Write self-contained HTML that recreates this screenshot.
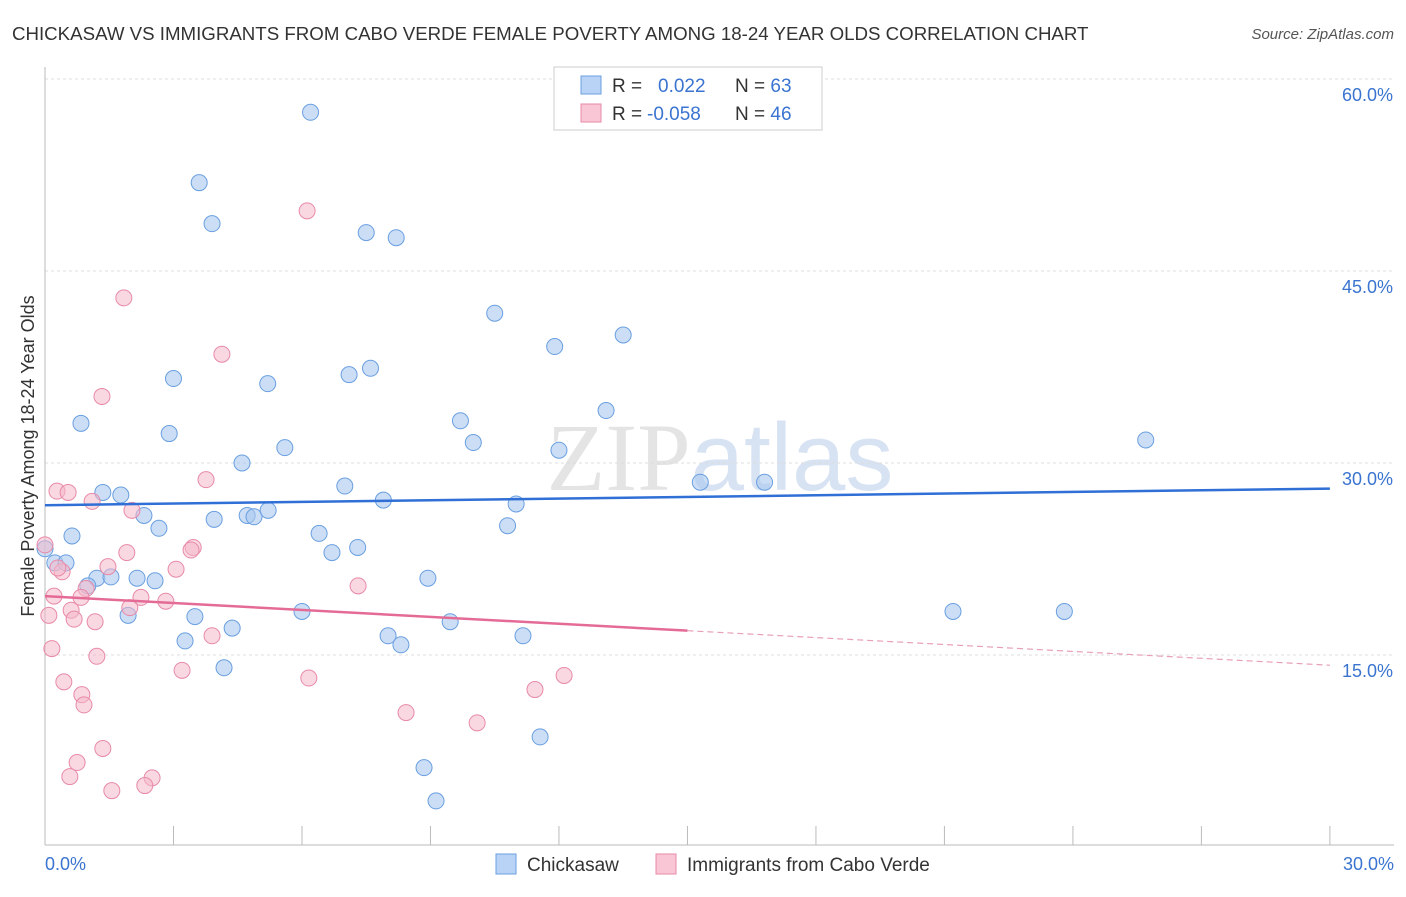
<!DOCTYPE html>
<html><head><meta charset="utf-8"><style>
body{margin:0;background:#fff;font-family:"Liberation Sans",sans-serif}
</style></head><body>
<svg id="c" width="1406" height="892" xmlns="http://www.w3.org/2000/svg">
<text x="12" y="40" font-size="18.7" fill="#333">CHICKASAW VS IMMIGRANTS FROM CABO VERDE FEMALE POVERTY AMONG 18-24 YEAR OLDS CORRELATION CHART</text>
<text x="1394" y="39" font-size="15" fill="#555" font-style="italic" text-anchor="end">Source: ZipAtlas.com</text>
<text x="720" y="490" font-size="96" fill="#e4e4e4" text-anchor="middle" font-family="Liberation Serif">ZIP<tspan fill="#d7e3f3" font-family="Liberation Sans">atlas</tspan></text>
<g id="grid"></g><g id="axes"></g><g id="pts"></g><g id="lines"></g>
<text transform="translate(34,456) rotate(-90)" font-size="18" fill="#333" text-anchor="middle">Female Poverty Among 18-24 Year Olds</text>
<text x="45" y="870" font-size="18" fill="#3a74d0">0.0%</text>
<text x="1394" y="870" font-size="18" fill="#3a74d0" text-anchor="end">30.0%</text>
<g>
<rect x="554" y="67" width="268" height="63" fill="#fff" stroke="#ccc"/>
<rect x="581" y="76" width="20" height="18" fill="#b8d3f5" stroke="#6a9fe0"/>
<rect x="581" y="104" width="20" height="18" fill="#f9c6d5" stroke="#e88aa8"/>
<text x="612" y="92" font-size="19" fill="#333">R =  <tspan fill="#3a74d0" x="658">0.022</tspan><tspan x="735">N = </tspan><tspan fill="#3a74d0">63</tspan></text>
<text x="612" y="120" font-size="19" fill="#333">R = <tspan fill="#3a74d0" x="647">-0.058</tspan><tspan x="735">N = </tspan><tspan fill="#3a74d0">46</tspan></text>
</g>
<g>
<rect x="496" y="854" width="20" height="20" fill="#b8d3f5" stroke="#6a9fe0"/>
<text x="527" y="871" font-size="19" fill="#333">Chickasaw</text>
<rect x="656" y="854" width="20" height="20" fill="#f9c6d5" stroke="#e88aa8"/>
<text x="687" y="871" font-size="19" fill="#333">Immigrants from Cabo Verde</text>
</g>
</svg>
<script>
const yTicks=[15,30,45,60];
const yTickLabels=["15.0%","30.0%","45.0%","60.0%"];
const xTicks=[0,3,6,9,12,15,18,21,24,27,30];
const blueX=[6.2,3.6,3.9,7.5,8.2,10.5,13.5,11.9,3.0,5.2,7.1,7.6,0.84,2.9,9.7,10.0,13.1,25.7,5.6,12.0,4.6,7.0,1.35,1.77,7.9,11.0,15.3,16.8,2.31,3.95,4.72,4.88,5.21,10.8,2.66,0.63,6.4,7.3,6.7,0.23,0.49,0.0,1.21,1.54,2.15,2.57,1.0,8.94,6.0,3.5,1.94,9.46,21.2,23.8,4.37,3.27,8.01,8.31,11.16,4.18,11.56,8.85,9.13];
const blueY=[57.4,51.9,48.7,48.0,47.6,41.7,40.0,39.1,36.6,36.2,36.9,37.4,33.1,32.3,33.3,31.6,34.1,31.8,31.2,31.0,30.0,28.2,27.7,27.5,27.1,26.8,28.5,28.5,25.9,25.6,25.9,25.8,26.3,25.1,24.9,24.3,24.5,23.4,23.0,22.2,22.2,23.3,21.0,21.1,21.0,20.8,20.4,21.0,18.4,18.0,18.1,17.6,18.4,18.4,17.1,16.1,16.5,15.8,16.5,14.0,8.6,6.2,3.6];
const pinkX=[6.12,1.84,4.13,1.33,3.76,0.28,0.54,1.1,2.03,0.0,1.91,3.46,3.41,1.47,0.4,3.06,0.3,7.31,0.21,0.96,0.84,2.24,2.82,1.98,0.61,0.09,0.68,1.17,3.9,0.16,1.21,3.2,6.16,0.44,12.12,11.44,0.86,0.91,8.43,10.09,1.35,0.75,0.58,2.5,2.33,1.56];
const pinkY=[49.7,42.9,38.5,35.2,28.7,27.8,27.7,27.0,26.3,23.6,23.0,23.4,23.2,21.9,21.5,21.7,21.8,20.4,19.6,20.2,19.5,19.5,19.2,18.7,18.5,18.1,17.8,17.6,16.5,15.5,14.9,13.8,13.2,12.9,13.4,12.3,11.9,11.1,10.5,9.7,7.7,6.6,5.5,5.4,4.8,4.4];
const blueLine=[26.7,28.0];
const pinkLine=[19.6,14.2];
const X=v=>45+v*42.83, Y=v=>847-v*12.8;
const NS="http://www.w3.org/2000/svg";
function mk(p,t,a){const e=document.createElementNS(NS,t);for(const k in a)e.setAttribute(k,a[k]);document.getElementById(p).appendChild(e);return e;}
yTicks.forEach((v,i)=>{
 const g=mk('grid','line',{x1:45,x2:1394,y1:Y(v),y2:Y(v),stroke:'#ddd','stroke-dasharray':'3,3'});
 
 
 const t=mk('grid','text',{x:1393,y:Y(v)+22,'font-size':18,fill:'#3a74d0','text-anchor':'end'});t.textContent=yTickLabels[i];
 
 
});
const ax=mk('axes','line',{x1:45,x2:1394,y1:845,y2:845,stroke:'#bbb'});


const ay=mk('axes','line',{x1:45,x2:45,y1:67,y2:845,stroke:'#bbb'});


xTicks.forEach(v=>{const t=mk('axes','line',{x1:X(v),x2:X(v),y1:826,y2:845,stroke:'#bbb'});
 
 });
blueX.forEach((v,i)=>{const c=mk('pts','circle',{cx:X(v),cy:Y(blueY[i]),r:8,fill:'rgba(169,200,240,0.6)',stroke:'#6a9fe0','stroke-width':1});
 
 });
pinkX.forEach((v,i)=>{const c=mk('pts','circle',{cx:X(v),cy:Y(pinkY[i]),r:8,fill:'rgba(244,184,203,0.55)',stroke:'#e88aa8','stroke-width':1});
 
 });
const bl=mk('lines','line',{x1:X(0),x2:X(30),y1:Y(blueLine[0]),y2:Y(blueLine[1]),stroke:'#2f6fd6','stroke-width':2.5});


const pm=pinkLine[0]+(pinkLine[1]-pinkLine[0])*15/30;
const pl=mk('lines','line',{x1:X(0),x2:X(15),y1:Y(pinkLine[0]),y2:Y(pm),stroke:'#e56b97','stroke-width':2.5});


const pd=mk('lines','line',{x1:X(15),x2:X(30),y1:Y(pm),y2:Y(pinkLine[1]),stroke:'#e8a0b8','stroke-width':1.2,'stroke-dasharray':'6,4'});


</script>
</body></html>
